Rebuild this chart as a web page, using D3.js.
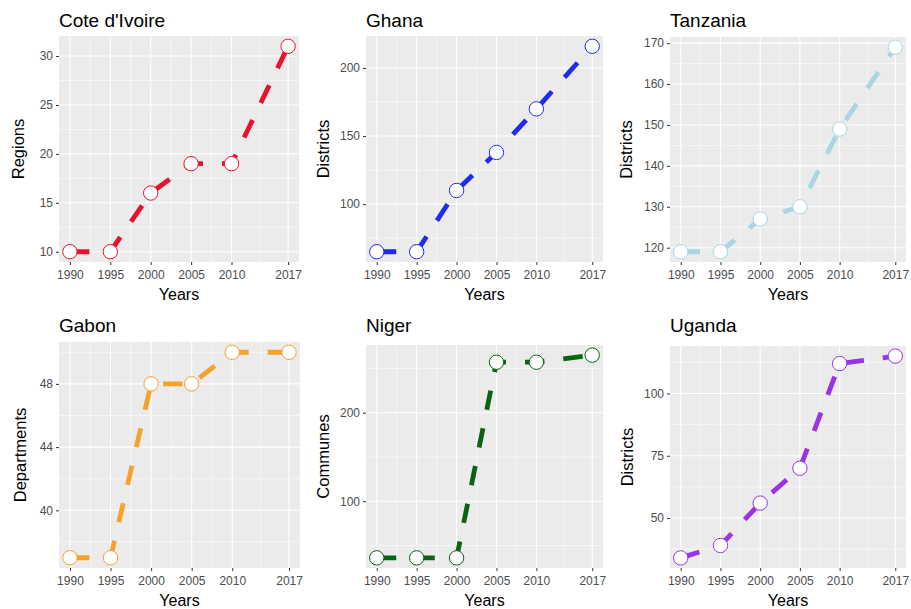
<!DOCTYPE html>
<html>
<head>
<meta charset="utf-8">
<script src="https://cdn.jsdelivr.net/npm/d3@7"></script>
<style>
  html, body { margin: 0; padding: 0; background: #ffffff; }
  svg { display: block; font-family: "Liberation Sans", Arial, Helvetica, sans-serif; }
</style>
</head>
<body>
<svg id="chart" width="911" height="609"></svg>
<script>
// Survey years shared by every panel
const years = [1990, 1995, 2000, 2005, 2010, 2017];

// Number of administrative units per country
const countries = ["Cote d'Ivoire", "Ghana", "Tanzania", "Gabon", "Niger", "Uganda"];
const unitLabels = ["Regions", "Districts", "Districts", "Departments", "Communes", "Districts"];
const coteDIvoire = [10, 10, 16, 19, 19, 31];
const ghana       = [65, 65, 110, 138, 170, 216];
const tanzania    = [119, 119, 127, 130, 149, 169];
const gabon       = [37, 37, 48, 48, 50, 50];
const niger       = [36, 36, 36, 257, 257, 265];
const uganda      = [34, 39, 56, 70, 112, 115];

// Y-axis tick labels per panel
const coteTicks     = [10, 15, 20, 25, 30];
const ghanaTicks    = [100, 150, 200];
const tanzaniaTicks = [120, 130, 140, 150, 160, 170];
const gabonTicks    = [40, 44, 48];
const nigerTicks    = [100, 200];
const ugandaTicks   = [50, 75, 100];

const seriesValues = [coteDIvoire, ghana, tanzania, gabon, niger, uganda];
const seriesTicks  = [coteTicks, ghanaTicks, tanzaniaTicks, gabonTicks, nigerTicks, ugandaTicks];

// Styling and panel geometry
const colours = ["#E8122D", "#1F2BEF", "#A9D5E4", "#F5A12C", "#0B6414", "#9933E6"];
const panelBoxes = [
  { x0: 59,  x1: 299, y0: 36,  y1: 262 },
  { x0: 366, x1: 603, y0: 36,  y1: 262 },
  { x0: 670, x1: 906, y0: 37,  y1: 262 },
  { x0: 59,  x1: 300, y0: 342, y1: 568 },
  { x0: 366, x1: 603, y0: 345, y1: 568 },
  { x0: 670, x1: 906, y0: 346, y1: 568 }
];
const yTitleX = [18, 323, 626, 20, 323, 627];

const svg = d3.select("#chart");
const lineW = 4.8;

function expand(lo, hi, frac) {
  const pad = (hi - lo) * frac;
  return [lo - pad, hi + pad];
}

function minorBreaks(majors, domain) {
  const out = [];
  for (let i = -1; i < majors.length; i++) {
    const a = i < 0 ? majors[0] - (majors[1] - majors[0]) : majors[i];
    const b = i + 1 < majors.length ? majors[i + 1] : majors[i] + (majors[i] - majors[i - 1]);
    const m = (a + b) / 2;
    if (m >= domain[0] && m <= domain[1]) out.push(m);
  }
  return out;
}

countries.forEach((name, i) => {
  const box = panelBoxes[i];
  const vals = seriesValues[i];
  const ticks = seriesTicks[i];
  const colour = colours[i];

  const xDom = expand(d3.min(years), d3.max(years), 0.05);
  const yDom = expand(d3.min(vals), d3.max(vals), 0.05);
  const x = d3.scaleLinear().domain(xDom).range([box.x0, box.x1]);
  const y = d3.scaleLinear().domain(yDom).range([box.y1, box.y0]);

  const g = svg.append("g").attr("class", "panel");

  // panel background
  g.append("rect")
    .attr("x", box.x0).attr("y", box.y0)
    .attr("width", box.x1 - box.x0).attr("height", box.y1 - box.y0)
    .attr("fill", "#EBEBEB");

  // minor grid
  const xMinor = minorBreaks(years, xDom);
  const yMinor = minorBreaks(ticks, yDom);
  g.selectAll(".xminor").data(xMinor).enter().append("line")
    .attr("x1", d => x(d)).attr("x2", d => x(d))
    .attr("y1", box.y0).attr("y2", box.y1)
    .attr("stroke", "#ffffff").attr("stroke-width", 0.55);
  g.selectAll(".yminor").data(yMinor).enter().append("line")
    .attr("y1", d => y(d)).attr("y2", d => y(d))
    .attr("x1", box.x0).attr("x2", box.x1)
    .attr("stroke", "#ffffff").attr("stroke-width", 0.55);

  // major grid
  g.selectAll(".xmajor").data(years).enter().append("line")
    .attr("x1", d => x(d)).attr("x2", d => x(d))
    .attr("y1", box.y0).attr("y2", box.y1)
    .attr("stroke", "#ffffff").attr("stroke-width", 1.1);
  g.selectAll(".ymajor").data(ticks).enter().append("line")
    .attr("y1", d => y(d)).attr("y2", d => y(d))
    .attr("x1", box.x0).attr("x2", box.x1)
    .attr("stroke", "#ffffff").attr("stroke-width", 1.1);

  // axes
  const xAxis = d3.axisBottom(x).tickValues(years).tickSize(3).tickPadding(5).tickFormat(d3.format("d"));
  const yAxis = d3.axisLeft(y).tickValues(ticks).tickSize(3).tickPadding(3).tickFormat(d3.format("d"));

  const gx = g.append("g").attr("transform", `translate(0,${box.y1})`).call(xAxis);
  const gy = g.append("g").attr("transform", `translate(${box.x0},0)`).call(yAxis);
  [gx, gy].forEach(ax => {
    ax.select(".domain").remove();
    ax.selectAll(".tick line").attr("stroke", "#333333").attr("stroke-width", 1);
    ax.selectAll(".tick text")
      .attr("fill", "#4D4D4D")
      .attr("font-size", 12)
      .attr("font-family", "'Liberation Sans', Arial, sans-serif");
  });

  // dashed series line
  const line = d3.line().x((d, j) => x(years[j])).y(d => y(d));
  g.append("path")
    .datum(vals)
    .attr("d", line)
    .attr("fill", "none")
    .attr("stroke", colour)
    .attr("stroke-width", lineW)
    .attr("stroke-dasharray", "19.5,19")
    .attr("stroke-linecap", "butt");

  // open points
  g.selectAll(".pt").data(vals).enter().append("circle")
    .attr("cx", (d, j) => x(years[j]))
    .attr("cy", d => y(d))
    .attr("r", 7.2)
    .attr("fill", "#ffffff")
    .attr("stroke", colour)
    .attr("stroke-width", 1);

  // panel title
  g.append("text")
    .attr("x", box.x0)
    .attr("y", i < 3 ? 27 : 332)
    .attr("font-size", 19)
    .attr("fill", "#000000")
    .text(name);

  // axis titles
  g.append("text")
    .attr("x", (box.x0 + box.x1) / 2)
    .attr("y", box.y1 + 38)
    .attr("text-anchor", "middle")
    .attr("font-size", 16)
    .attr("fill", "#000000")
    .text("Years");

  g.append("text")
    .attr("transform", `translate(${yTitleX[i] + 6},${(box.y0 + box.y1) / 2}) rotate(-90)`)
    .attr("text-anchor", "middle")
    .attr("font-size", 16.5)
    .attr("fill", "#000000")
    .text(unitLabels[i]);
});
</script>
</body>
</html>
